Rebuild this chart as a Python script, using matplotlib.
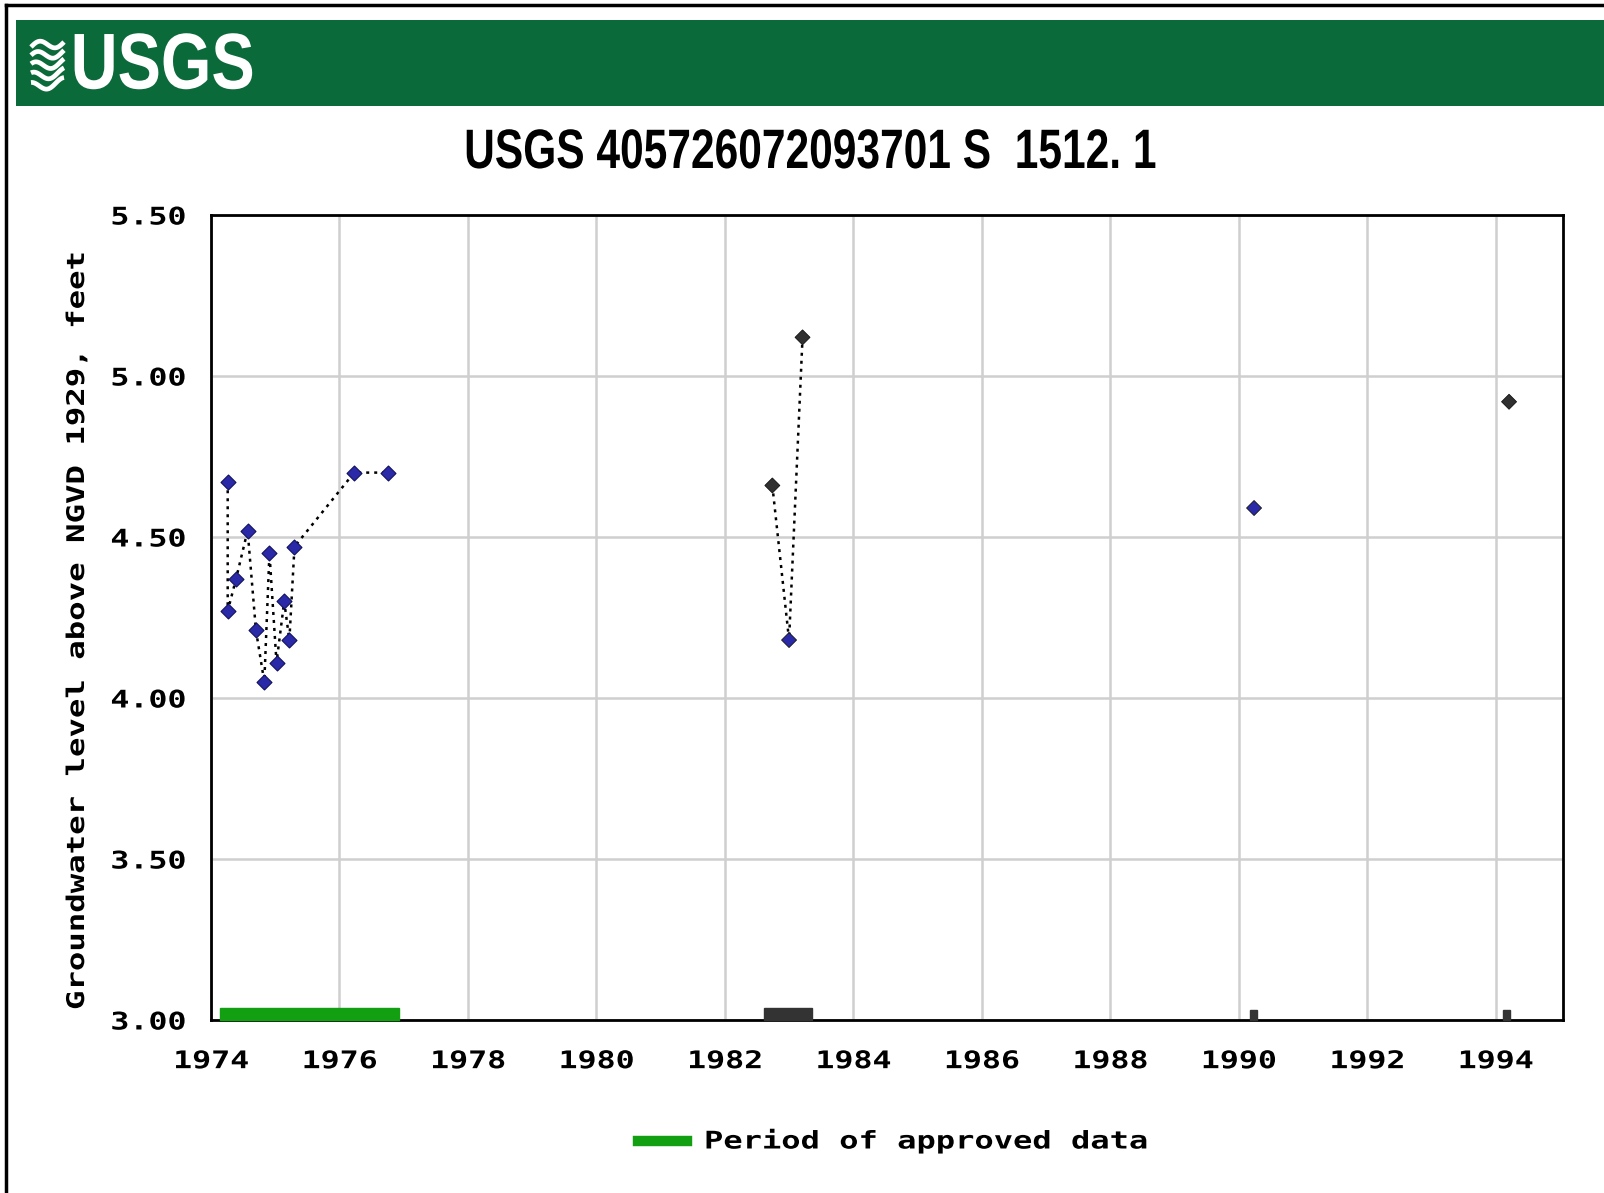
import numpy as np
import matplotlib
matplotlib.use("Agg")
import matplotlib.pyplot as plt
from matplotlib.lines import Line2D
from matplotlib.patches import Rectangle
from matplotlib.patheffects import AbstractPathEffect
from matplotlib.transforms import Affine2D

# Groundwater level measurements (decimal year, feet above NGVD 1929)
approved_years = [1974.26, 1974.26, 1974.39, 1974.57, 1974.70, 1974.83, 1974.91,
                  1975.02, 1975.14, 1975.22, 1975.30, 1976.23, 1976.76]
approved_levels = [4.67, 4.27, 4.37, 4.52, 4.21, 4.05, 4.45,
                   4.11, 4.30, 4.18, 4.47, 4.70, 4.70]

series_1982_years = [1982.74, 1983.00, 1983.21]
series_1982_levels = [4.66, 4.18, 5.12]
series_1982_colors = ["#303030", "#2a2aa8", "#303030"]

single_years = [1990.24, 1994.21]
single_levels = [4.59, 4.92]
single_colors = ["#2a2aa8", "#303030"]

# Data-period bars along the bottom of the plot
approved_period = (1974.14, 1976.92)
other_periods = [(1982.61, 1983.36), (1990.17, 1990.29), (1994.11, 1994.23)]

x_ticks = list(range(1974, 1995, 2))
y_ticks = [3.0, 3.5, 4.0, 4.5, 5.0, 5.5]
y_tick_labels = ["3.00", "3.50", "4.00", "4.50", "5.00", "5.50"]


class Stretch(AbstractPathEffect):
    """Scale glyph outlines along the text baseline about a chosen edge."""

    def __init__(self, sx, anchor="center"):
        super().__init__()
        self.sx = sx
        self.anchor = anchor

    def draw_path(self, renderer, gc, tpath, affine, rgbFace=None):
        v = tpath.vertices
        if len(v) == 0:
            return
        if self.anchor == "left":
            cx = v[:, 0].min()
        elif self.anchor == "right":
            cx = v[:, 0].max()
        else:
            cx = 0.5 * (v[:, 0].min() + v[:, 0].max())
        pre = Affine2D().translate(-cx, 0).scale(self.sx, 1).translate(cx, 0)
        renderer.draw_path(gc, tpath, pre + affine, rgbFace)


W, H = 1604, 1193
fig = plt.figure(figsize=(W / 100, H / 100), dpi=100)
fig.patch.set_facecolor("white")

MONO = dict(family="DejaVu Sans Mono", fontweight="bold", fontsize=17.5)
MONO_SX = 1.3
SANS = ["Liberation Sans", "DejaVu Sans"]

# Header band with logo
hdr = fig.add_axes([16 / W, 1 - 106 / H, (W - 16) / W, 86 / H])
hdr.set_xlim(16, W)
hdr.set_ylim(106, 20)
hdr.set_facecolor("#0b6a3a")
for s in hdr.spines.values():
    s.set_visible(False)
hdr.set_xticks([])
hdr.set_yticks([])
wx = np.linspace(31, 64, 60)
for k, y0 in enumerate([47, 57, 67, 77, 87]):
    wy = y0 - 4.5 * np.sin((wx - 31) / 33 * 2 * np.pi + k * 0.4) - (wx - 31) * 0.15
    hdr.plot(wx, wy, color="white", lw=3.4, solid_capstyle="butt")
hdr.text(163, 68, "USGS", color="white", fontsize=57, fontweight="bold",
         family=SANS, ha="center", va="center",
         path_effects=[Stretch(0.82)])

# Outer frame (top and left edges)
fig.add_artist(Line2D([6 / W, 6 / W], [0, 1 - 5 / H], color="black", lw=2.5,
                      transform=fig.transFigure))
fig.add_artist(Line2D([6 / W, 1], [1 - 5 / H, 1 - 5 / H], color="black", lw=2.5,
                      transform=fig.transFigure))

fig.text(810 / W, 1 - 154 / H, "USGS 405726072093701 S  1512. 1",
         family=SANS, fontweight="bold", fontsize=40, ha="center", va="center",
         path_effects=[Stretch(0.765)])

ax = fig.add_axes([211 / W, 1 - 1020 / H, (1563 - 211) / W, (1020 - 215) / H])
ax.set_xlim(1974, 1995.05)
ax.set_ylim(3.0, 5.5)
ax.set_xticks(x_ticks)
ax.set_xticklabels([str(t) for t in x_ticks], **MONO)
ax.set_yticks(y_ticks)
ax.set_yticklabels(y_tick_labels, **MONO)
for lab in ax.get_xticklabels():
    lab.set_path_effects([Stretch(MONO_SX)])
for lab in ax.get_yticklabels():
    lab.set_path_effects([Stretch(MONO_SX, "right")])
    lab.set_verticalalignment("center_baseline")
ax.tick_params(length=0)
ax.tick_params(axis="y", pad=18)
ax.tick_params(axis="x", pad=21)
ax.grid(True, color="#cfcfcf", lw=1.8)
ax.set_axisbelow(True)
for s in ax.spines.values():
    s.set_linewidth(2)
    s.set_color("black")

fig.text(77 / W, 1 - 631 / H, "Groundwater level above NGVD 1929, feet",
         rotation=90, ha="center", va="center", **MONO,
         path_effects=[Stretch(1.33)])

# Measurement series, dotted connectors
dot = (0, (1.2, 2.0))
ax.plot(approved_years, approved_levels, ls=dot, color="black", lw=1.8, zorder=3)
ax.scatter(approved_years, approved_levels, marker="D", s=58, color="#2a2aa8",
           edgecolor="#101060", lw=0.8, zorder=4)
ax.plot(series_1982_years, series_1982_levels, ls=dot, color="black", lw=1.8, zorder=3)
ax.scatter(series_1982_years, series_1982_levels, marker="D", s=58, c=series_1982_colors,
           edgecolor="#101010", lw=0.6, zorder=4)
ax.scatter(single_years, single_levels, marker="D", s=58, c=single_colors,
           edgecolor="#101010", lw=0.6, zorder=4)

# Period bars
bar_h = 0.037
ax.add_patch(Rectangle((approved_period[0], 3.0), approved_period[1] - approved_period[0], bar_h,
                       color="#12a012", zorder=5, clip_on=False))
for (a, b) in other_periods:
    ax.add_patch(Rectangle((a, 3.0), b - a, bar_h * (1 if b - a > 0.3 else 0.8),
                           color="#333333", zorder=5, clip_on=False))

# Legend
fig.add_artist(Line2D([638 / W, 687 / W], [1 - 1141 / H, 1 - 1141 / H], color="#12a012",
                      lw=7.5, transform=fig.transFigure))
fig.text(704 / W, 1 - 1141 / H, "Period of approved data", ha="left", va="center",
         **MONO, path_effects=[Stretch(1.32, "left")])

fig.savefig("out.png", dpi=100)
